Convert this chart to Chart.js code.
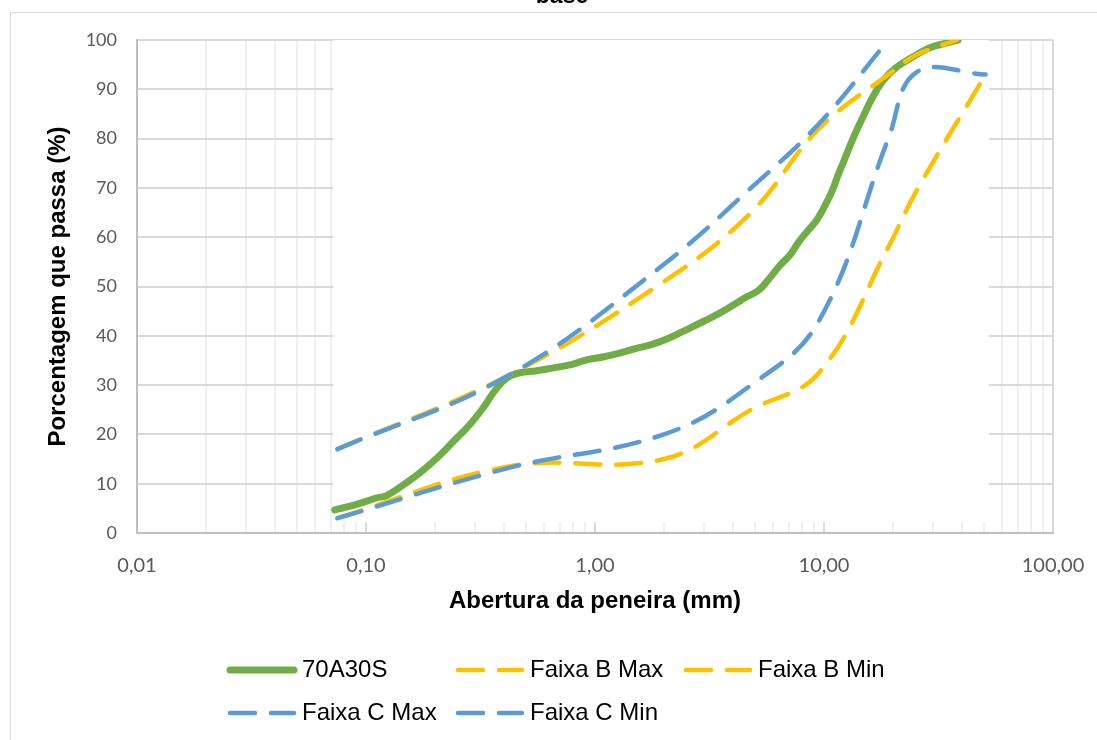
<!DOCTYPE html>
<html>
<head>
<meta charset="utf-8">
<script src="https://cdn.jsdelivr.net/npm/chart.js@4.4.1/dist/chart.umd.min.js"></script>
<style>
  html, body { margin: 0; padding: 0; background: #fff; }
  #wrap { width: 1097px; height: 740px; }
</style>
</head>
<body>
<div id="wrap"><canvas id="curva" width="1097" height="740"></canvas></div>
<script>
// Curva granulométrica da mistura 70A30S
const amostraAbertura = [0.073, 0.088, 0.10, 0.111, 0.123, 0.145, 0.172, 0.204, 0.24, 0.283,
  0.325, 0.359, 0.393, 0.425, 0.47, 0.556, 0.658, 0.778, 0.92, 1.08,
  1.28, 1.53, 1.79, 2.12, 2.5, 2.97, 3.5, 4.0, 4.6, 5.2,
  5.7, 6.4, 7.1, 7.8, 8.5, 9.3, 10.1, 10.9, 11.5, 12.1,
  13.3, 14.8, 16.3, 18.2, 20.8, 24.5, 28.8, 34.4, 38.5];
const amostraPassante = [4.7, 5.6, 6.4, 7.1, 7.6, 9.7, 12.2, 15.2, 18.5, 21.9,
  25.4, 28.4, 30.6, 31.8, 32.5, 32.9, 33.5, 34.1, 35.1, 35.7,
  36.5, 37.5, 38.3, 39.6, 41.2, 42.9, 44.6, 46.2, 47.9, 49.3,
  51.3, 54.2, 56.4, 59.2, 61.3, 63.5, 66.4, 69.6, 72.5, 75,
  79.7, 84.4, 88.4, 91.9, 94.5, 96.6, 98.4, 99.4, 100];

// Faixas granulométricas (abertura em mm, % passante)
const faixaBMaxAbertura = [0.075, 0.42, 2.0, 4.8, 9.5, 19.1, 25.4, 38.1];
const faixaBMax = [17, 32, 51, 65, 82, 93, 97, 100];
const faixaBMinAbertura = [0.075, 0.42, 2.0, 4.8, 9.5, 19.1, 25.4, 50.8];
const faixaBMin = [3, 13.5, 15, 25, 32.5, 58, 69.5, 93];
const faixaCMaxAbertura = [0.075, 0.42, 2.0, 4.8, 9.5, 19.1];
const faixaCMax = [17, 32, 54.5, 70, 83, 100];
const faixaCMinAbertura = [0.075, 0.42, 2.0, 4.8, 9.5, 19.1, 25.4, 50.8];
const faixaCMin = [3, 13.2, 20, 30, 43, 80, 93.5, 93];

// Eixos
const decadas = [0.01, 0.1, 1, 10, 100];
const decadasRotulo = ['0,01', '0,10', '1,00', '10,00', '100,00'];
const yTicks = [0, 10, 20, 30, 40, 50, 60, 70, 80, 90, 100];

// marcas de grade em 1..9 de cada década
const gradeX = [];
decadas.slice(0, -1).forEach(d => {
  for (let k = 1; k <= 9; k++) gradeX.push(Number((k * d).toPrecision(3)));
});
gradeX.push(100);

// área branca do gráfico sobreposto (cobre a grade)
const mascara = { x0: 0.072, x1: 52.5, y0: 2.2, y1: 100 };

const pares = (xs, ys) => xs.map((x, i) => ({ x: x, y: ys[i] }));

const laranja = '#FFC000';
const azul = '#5B9BD5';
const verde = '#70AD47';
const tracejado = [25, 16];

const fundo = {
  id: 'fundo',
  beforeDraw(chart) {
    const { ctx, width, height } = chart;
    ctx.save();
    ctx.fillStyle = '#fff';
    ctx.fillRect(0, 0, width, height);
    ctx.strokeStyle = '#d9d9d9';
    ctx.lineWidth = 1;
    ctx.beginPath();
    ctx.moveTo(10.5, height);
    ctx.lineTo(10.5, 12.5);
    ctx.lineTo(width, 12.5);
    ctx.stroke();
    ctx.restore();
  }
};

const cobertura = {
  id: 'cobertura',
  beforeDatasetsDraw(chart) {
    const { ctx, scales: { x, y } } = chart;
    const l = x.getPixelForValue(mascara.x0), r = x.getPixelForValue(mascara.x1);
    const t = y.getPixelForValue(mascara.y1), b = y.getPixelForValue(mascara.y0);
    ctx.save();
    ctx.fillStyle = '#fff';
    ctx.fillRect(l, t, r - l, b - t);
    ctx.restore();
  }
};

const legendaTitulo = {
  id: 'legendaTitulo',
  afterDraw(chart) {
    const { ctx } = chart;
    ctx.save();
    ctx.fillStyle = '#000';
    ctx.font = 'bold 23px "Liberation Sans", Arial';
    ctx.textAlign = 'center';
    ctx.textBaseline = 'alphabetic';
    ctx.fillText('base', 562, 3);

    const colX = [227, 455, 683], rowY = [670, 713];
    chart.data.datasets.forEach((ds, i) => {
      const x = colX[i % 3], yy = rowY[Math.floor(i / 3)];
      ctx.strokeStyle = ds.borderColor;
      ctx.lineWidth = ds.borderWidth;
      ctx.lineCap = 'round';
      ctx.setLineDash(ds.borderDash || []);
      ctx.beginPath();
      ctx.moveTo(x + 3, yy);
      ctx.lineTo(x + 67, yy);
      ctx.stroke();
      ctx.setLineDash([]);
      ctx.fillStyle = '#000';
      ctx.font = '24px "Liberation Sans", Arial';
      ctx.textAlign = 'left';
      ctx.textBaseline = 'middle';
      ctx.fillText(ds.label, x + 75, yy);
    });
    ctx.restore();
  }
};

const linha = (label, data, cor, largura, dash, ordem) => ({
  label: label,
  data: data,
  borderColor: cor,
  backgroundColor: cor,
  borderWidth: largura,
  borderDash: dash,
  borderCapStyle: 'round',
  borderJoinStyle: 'round',
  tension: 0.4,
  pointRadius: 0,
  fill: false,
  clip: 0,
  order: ordem
});

new Chart(document.getElementById('curva'), {
  type: 'line',
  data: {
    datasets: [
      linha('70A30S', pares(amostraAbertura, amostraPassante), verde, 7, [], 5),
      linha('Faixa B Max', pares(faixaBMaxAbertura, faixaBMax), laranja, 4.5, tracejado, 4),
      linha('Faixa B Min', pares(faixaBMinAbertura, faixaBMin), laranja, 4.5, tracejado, 3),
      linha('Faixa C Max', pares(faixaCMaxAbertura, faixaCMax), azul, 4.5, tracejado, 2),
      linha('Faixa C Min', pares(faixaCMinAbertura, faixaCMin), azul, 4.5, tracejado, 1)
    ]
  },
  options: {
    responsive: false,
    animation: false,
    layout: { padding: { left: 12, top: 40, right: 44, bottom: 117 } },
    plugins: {
      legend: { display: false },
      tooltip: { enabled: false },
      title: { display: false }
    },
    scales: {
      x: {
        type: 'logarithmic',
        min: 0.01,
        max: 100,
        afterBuildTicks(s) {
          s.ticks = gradeX.map(v => ({ value: v, major: decadas.includes(v) }));
        },
        afterFit(s) {
          s.height = 90;
          s.paddingLeft = 0;
          s.paddingRight = 0;
        },
        ticks: {
          autoSkip: false,
          maxRotation: 0,
          padding: 21,
          color: '#595959',
          font: { family: 'Lato', size: 20 },
          callback: (v) => {
            const i = decadas.indexOf(v);
            return i >= 0 ? decadasRotulo[i] : '';
          }
        },
        grid: {
          drawTicks: false,
          lineWidth: 2,
          color: (c) => (c.tick && decadas.includes(c.tick.value)) ? '#d9d9d9' : '#efefef'
        },
        border: { color: '#bfbfbf', width: 2 },
        title: {
          display: true,
          text: 'Abertura da peneira (mm)',
          color: '#000',
          font: { family: '"Liberation Sans", Arial', size: 24, weight: 'bold' },
          padding: { top: 0, bottom: 7 }
        }
      },
      y: {
        min: 0,
        max: 100,
        afterBuildTicks(s) {
          s.ticks = yTicks.map(v => ({ value: v }));
        },
        afterFit(s) {
          s.width = 125;
          s.paddingTop = 0;
          s.paddingBottom = 0;
        },
        ticks: {
          padding: 20,
          color: '#595959',
          font: { family: 'Lato', size: 18 }
        },
        grid: { drawTicks: false, lineWidth: 2, color: '#d9d9d9' },
        border: { color: '#bfbfbf', width: 2 },
        title: {
          display: true,
          text: 'Porcentagem que passa (%)',
          color: '#000',
          font: { family: '"Liberation Sans", Arial', size: 24, weight: 'bold' },
          padding: { top: 32, bottom: 0 }
        }
      }
    }
  },
  plugins: [fundo, cobertura, legendaTitulo]
});
</script>
</body>
</html>
